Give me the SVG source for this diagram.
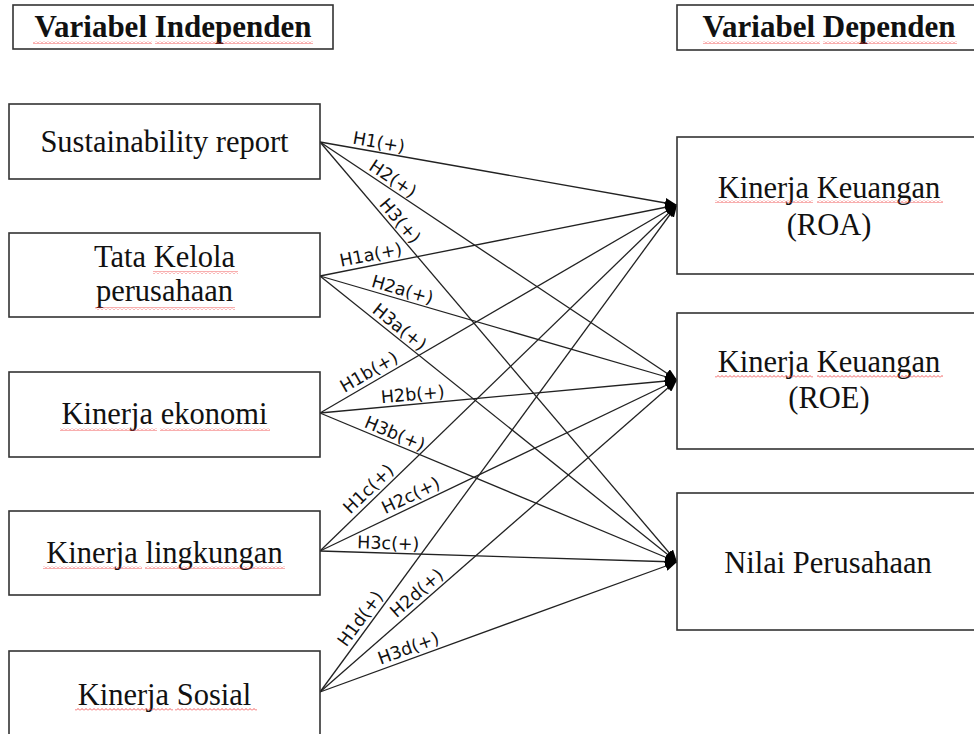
<svg xmlns="http://www.w3.org/2000/svg" width="974" height="734" viewBox="0 0 974 734">
<defs>
<style>
.box{fill:#fff;stroke:#333;stroke-width:1.6}
.t{font-family:"Liberation Serif","Times New Roman",serif;font-size:30.5px;fill:#111;text-anchor:middle}
.h{font-weight:bold;font-size:31px}
.lbl{font-family:"DejaVu Sans",sans-serif;font-size:17.5px;fill:#111;text-anchor:middle}
.ln{stroke:#222;stroke-width:1.3;fill:none;marker-end:url(#arr)}
.sq{fill:url(#squig)}
</style>
<marker id="arr" markerUnits="userSpaceOnUse" markerWidth="13" markerHeight="10" refX="12" refY="5" orient="auto">
<path d="M0,0 L12,5 L0,10 Z" fill="#000"/>
</marker>
<pattern id="squig" patternUnits="userSpaceOnUse" width="4" height="3">
<path d="M0,2.5 L2,0.5 L4,2.5" fill="none" stroke="#e33" stroke-width="0.8"/>
</pattern>
</defs>
<rect width="974" height="734" fill="#fff"/>

<g id="hdr-indep">
<rect class="box" x="13" y="5" width="320" height="44"/>
<text class="t h" x="173" y="37">Variabel Independen</text>
<rect class="sq" x="33" y="41" width="119" height="3"/>
<rect class="sq" x="155" y="41" width="158" height="3"/>
</g>
<g id="hdr-dep">
<rect class="box" x="677" y="5" width="320" height="45"/>
<text class="t h" x="829" y="37">Variabel Dependen</text>
<rect class="sq" x="703" y="41" width="117" height="3"/>
<rect class="sq" x="823" y="41" width="134" height="3"/>
</g>

<g id="connectors">
<line class="ln" x1="320" y1="142" x2="677" y2="205"/>
<line class="ln" x1="320" y1="142" x2="677" y2="380"/>
<line class="ln" x1="320" y1="142" x2="677" y2="562"/>
<line class="ln" x1="320" y1="276" x2="677" y2="205"/>
<line class="ln" x1="320" y1="276" x2="677" y2="380"/>
<line class="ln" x1="320" y1="276" x2="677" y2="562"/>
<line class="ln" x1="320" y1="413" x2="677" y2="205"/>
<line class="ln" x1="320" y1="413" x2="677" y2="380"/>
<line class="ln" x1="320" y1="413" x2="677" y2="562"/>
<line class="ln" x1="320" y1="551" x2="677" y2="205"/>
<line class="ln" x1="320" y1="551" x2="677" y2="380"/>
<line class="ln" x1="320" y1="551" x2="677" y2="562"/>
<line class="ln" x1="320" y1="692" x2="677" y2="205"/>
<line class="ln" x1="320" y1="692" x2="677" y2="380"/>
<line class="ln" x1="320" y1="692" x2="677" y2="562"/>
<text class="lbl" transform="translate(320,142) rotate(10.01)" x="58" y="-4">H1(+)</text>
<text class="lbl" transform="translate(320,142) rotate(33.69)" x="81" y="-4">H2(+)</text>
<text class="lbl" transform="translate(320,142) rotate(49.64)" x="112" y="-4">H3(+)</text>
<text class="lbl" transform="translate(320,276) rotate(-11.25)" x="54" y="-5">H1a(+)</text>
<text class="lbl" transform="translate(320,276) rotate(16.24)" x="83" y="-4">H2a(+)</text>
<text class="lbl" transform="translate(320,276) rotate(38.70)" x="94" y="-4">H3a(+)</text>
<text class="lbl" transform="translate(320,413) rotate(-30.22)" x="63" y="-5">H1b(+)</text>
<text class="lbl" transform="translate(320,413) rotate(-5.28)" x="94" y="-4">H2b(+)</text>
<text class="lbl" transform="translate(320,413) rotate(22.65)" x="77" y="-4">H3b(+)</text>
<text class="lbl" transform="translate(320,551) rotate(-44.10)" x="78" y="-5">H1c(+)</text>
<text class="lbl" transform="translate(320,551) rotate(-25.59)" x="106" y="-5">H2c(+)</text>
<text class="lbl" transform="translate(320,551) rotate(1.76)" x="68" y="-4">H3c(+)</text>
<text class="lbl" transform="translate(320,692) rotate(-53.76)" x="83" y="-5">H1d(+)</text>
<text class="lbl" transform="translate(320,692) rotate(-41.16)" x="138" y="-5">H2d(+)</text>
<text class="lbl" transform="translate(320,692) rotate(-20.01)" x="98" y="-5">H3d(+)</text>
</g>

<g id="n-sr">
<rect class="box" x="9" y="104" width="311" height="75"/>
<text class="t" x="164.5" y="152">Sustainability report</text>
</g>
<g id="n-tk">
<rect class="box" x="9" y="233" width="311" height="84"/>
<text class="t" x="164.5" y="267">Tata Kelola</text>
<text class="t" x="164.5" y="301">perusahaan</text>
<rect class="sq" x="153" y="271" width="85" height="3"/>
<rect class="sq" x="95" y="307" width="140" height="3"/>
</g>
<g id="n-ke">
<rect class="box" x="9" y="372" width="311" height="85"/>
<text class="t" x="164.5" y="424">Kinerja ekonomi</text>
<rect class="sq" x="60" y="428" width="97" height="3"/>
<rect class="sq" x="160" y="428" width="110" height="3"/>
</g>
<g id="n-kl">
<rect class="box" x="9" y="511" width="311" height="84"/>
<text class="t" x="164.5" y="563">Kinerja lingkungan</text>
<rect class="sq" x="43" y="566" width="99" height="3"/>
<rect class="sq" x="145" y="566" width="140" height="3"/>
</g>
<g id="n-ks">
<rect class="box" x="9" y="651" width="311" height="100"/>
<text class="t" x="164.5" y="705">Kinerja Sosial</text>
<rect class="sq" x="75" y="708" width="98" height="3"/>
<rect class="sq" x="175" y="708" width="82" height="3"/>
</g>

<g id="n-roa">
<rect class="box" x="677" y="137" width="320" height="137"/>
<text class="t" x="829" y="198">Kinerja Keuangan</text>
<text class="t" x="829" y="235">(ROA)</text>
<rect class="sq" x="715" y="200" width="98" height="3"/>
<rect class="sq" x="817" y="200" width="126" height="3"/>
</g>
<g id="n-roe">
<rect class="box" x="677" y="313" width="320" height="136"/>
<text class="t" x="829" y="372">Kinerja Keuangan</text>
<text class="t" x="829" y="408">(ROE)</text>
<rect class="sq" x="715" y="375" width="98" height="3"/>
<rect class="sq" x="817" y="375" width="126" height="3"/>
</g>
<g id="n-nilai">
<rect class="box" x="677" y="493" width="320" height="137"/>
<text class="t" x="828" y="573">Nilai Perusahaan</text>
</g>
</svg>
